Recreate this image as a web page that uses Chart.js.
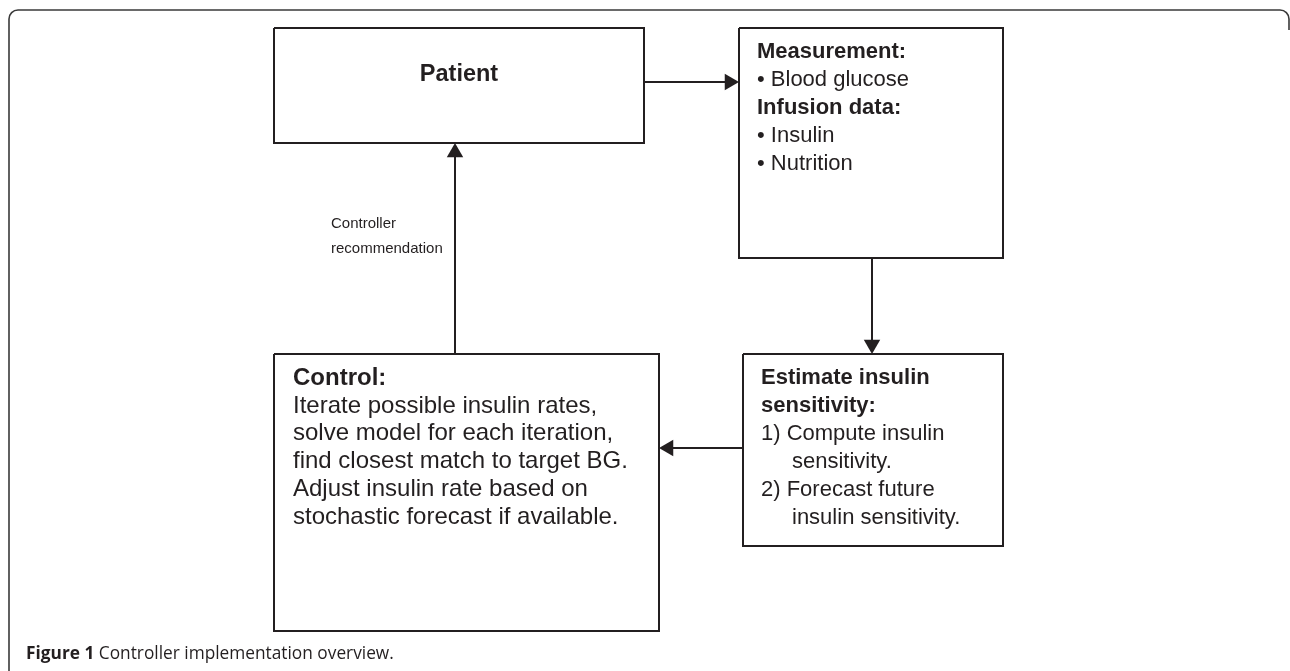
<!DOCTYPE html>
<html>
<head>
<meta charset="utf-8">
<script src="https://cdn.jsdelivr.net/npm/chart.js@4.4.0/dist/chart.umd.min.js"></script>
<style>
  html, body { margin: 0; padding: 0; background: #fff; overflow: hidden; }
  #wrap { position: relative; width: 1290px; height: 671px; }
  #graph { position: absolute; left: 0; top: 0; }
  #caption {
    position: absolute; left: 26px; top: 642px;
    font-family: "Open Sans", sans-serif; font-size: 17.3px; color: #231f20;
    white-space: nowrap; line-height: 22px;
  }
  #caption b { font-weight: 700; }
</style>
</head>
<body>
<div id="wrap">
  <canvas id="graph" width="1290" height="671"></canvas>
  <div id="caption"><b>Figure 1</b> Controller implementation overview.</div>
</div>
<script>
// diagram content
var nodeIds = ['patient', 'measure', 'estimate', 'control'];

var patientText = ['Patient'];
var patientBold = [true];

var measureText = ['Measurement:', '\u2022 Blood glucose', 'Infusion data:', '\u2022 Insulin', '\u2022 Nutrition'];
var measureBold = [true, false, true, false, false];

var estimateText = ['Estimate insulin', 'sensitivity:', '1) Compute insulin', 'sensitivity.', '2) Forecast future', 'insulin sensitivity.'];
var estimateBold = [true, true, false, false, false, false];

var controlText = ['Control:', 'Iterate possible insulin rates,', 'solve model for each iteration,',
  'find closest match to target BG.', 'Adjust insulin rate based on', 'stochastic forecast if available.'];
var controlBold = [true, false, false, false, false, false];

var edgeFrom = ['patient', 'measure', 'estimate', 'control'];
var edgeTo = ['measure', 'estimate', 'control', 'patient'];
var edgeLabel = [null, null, null, ['Controller', 'recommendation']];

// layout (pixel space of the 1290x671 figure)
var layout = {
  patient:  { box: [274, 28, 644, 143], text: patientText, bold: patientBold, x: 459, y: 75, size: 23.5, align: 'center', indent: [0] },
  measure:  { box: [739, 28, 1003, 258], text: measureText, bold: measureBold, x: 757, y: 52, size: 22, align: 'left', indent: [0, 0, 0, 0, 0] },
  estimate: { box: [743, 354, 1003, 546], text: estimateText, bold: estimateBold, x: 761, y: 378, size: 22, align: 'left', indent: [0, 0, 0, 31, 0, 31] },
  control:  { box: [274, 354, 659, 631], text: controlText, bold: controlBold, x: 293, y: 378, size: 24, align: 'left', indent: [0, 0, 0, 0, 0, 0] }
};
var edgeRoutes = [[644, 82, 739, 82], [872, 258, 872, 354], [743, 448, 659, 448], [455, 354, 455, 143]];
var edgeLabelPos = [null, null, null, { x: 331, y: 224 }];

var INK = '#231f20';
var FONT = '"Liberation Sans", Arial, Helvetica, sans-serif';
var LINE_H = 27.9;
var HEAD = 9.5; // arrow head radius

document.addEventListener('DOMContentLoaded', function() {
  var ctx = document.getElementById('graph').getContext('2d');

  var datasets = [];

  // box outlines
  nodeIds.forEach(function(id) {
    var b = layout[id].box;
    datasets.push({
      type: 'line',
      data: [{x: b[0], y: b[1]}, {x: b[2], y: b[1]}, {x: b[2], y: b[3]}, {x: b[0], y: b[3]}, {x: b[0], y: b[1]}],
      borderColor: INK,
      borderWidth: 2,
      pointRadius: 0,
      fill: false,
      tension: 0
    });
  });

  // connectors with arrow heads (triangle point at the end)
  edgeRoutes.forEach(function(r) {
    var dx = r[2] - r[0], dy = r[3] - r[1];
    var len = Math.sqrt(dx * dx + dy * dy);
    var ux = dx / len, uy = dy / len;
    var hx = r[2] - ux * HEAD, hy = r[3] - uy * HEAD;
    // rotation: triangle points up by default
    var rot = Math.atan2(ux, -uy) * 180 / Math.PI;
    datasets.push({
      type: 'line',
      data: [{x: r[0], y: r[1]}, {x: hx, y: hy}],
      borderColor: INK,
      borderWidth: 2,
      pointRadius: [0, HEAD],
      pointStyle: 'triangle',
      pointRotation: [0, rot],
      pointBackgroundColor: INK,
      pointBorderColor: INK,
      pointBorderWidth: 0,
      fill: false
    });
  });

  // frame + text drawn through the scales
  var diagramText = {
    id: 'diagramText',
    beforeDatasetsDraw: function(chart) {
      var c = chart.ctx, xs = chart.scales.x, ys = chart.scales.y;
      var l = xs.getPixelForValue(9), t = ys.getPixelForValue(10);
      var r = xs.getPixelForValue(1289), btm = ys.getPixelForValue(671);
      var rad = 9;
      c.save();
      c.strokeStyle = '#3a3a3a';
      c.lineWidth = 1.6;
      c.beginPath();
      c.moveTo(l, btm + 2);
      c.lineTo(l, t + rad);
      c.arcTo(l, t, l + rad, t, rad);
      c.lineTo(r - rad, t);
      c.arcTo(r, t, r, t + rad, rad);
      c.lineTo(r, t + 20);
      c.stroke();
      c.restore();
    },
    afterDatasetsDraw: function(chart) {
      var c = chart.ctx, xs = chart.scales.x, ys = chart.scales.y;
      c.save();
      c.fillStyle = INK;
      c.textBaseline = 'middle';
      nodeIds.forEach(function(id) {
        var n = layout[id];
        c.textAlign = n.align;
        n.text.forEach(function(s, i) {
          c.font = (n.bold[i] ? 'bold ' : '') + n.size + 'px ' + FONT;
          c.fillText(s, xs.getPixelForValue(n.x + n.indent[i]), ys.getPixelForValue(n.y + i * LINE_H));
        });
      });
      c.textAlign = 'left';
      c.font = '15px ' + FONT;
      edgeLabel.forEach(function(lab, i) {
        if (!lab) return;
        var p = edgeLabelPos[i];
        lab.forEach(function(s, j) {
          c.fillText(s, xs.getPixelForValue(p.x), ys.getPixelForValue(p.y + j * 25));
        });
      });
      c.restore();
    }
  };

  new Chart(ctx, {
    type: 'line',
    data: { datasets: datasets },
    options: {
      responsive: false,
      animation: false,
      devicePixelRatio: 1,
      layout: { padding: 0, autoPadding: false },
      plugins: {
        legend: { display: false },
        tooltip: { enabled: false }
      },
      scales: {
        x: { type: 'linear', min: 0, max: 1290, display: false },
        y: { type: 'linear', min: 0, max: 671, reverse: true, display: false }
      }
    },
    plugins: [diagramText]
  });
});
</script>
</body>
</html>
